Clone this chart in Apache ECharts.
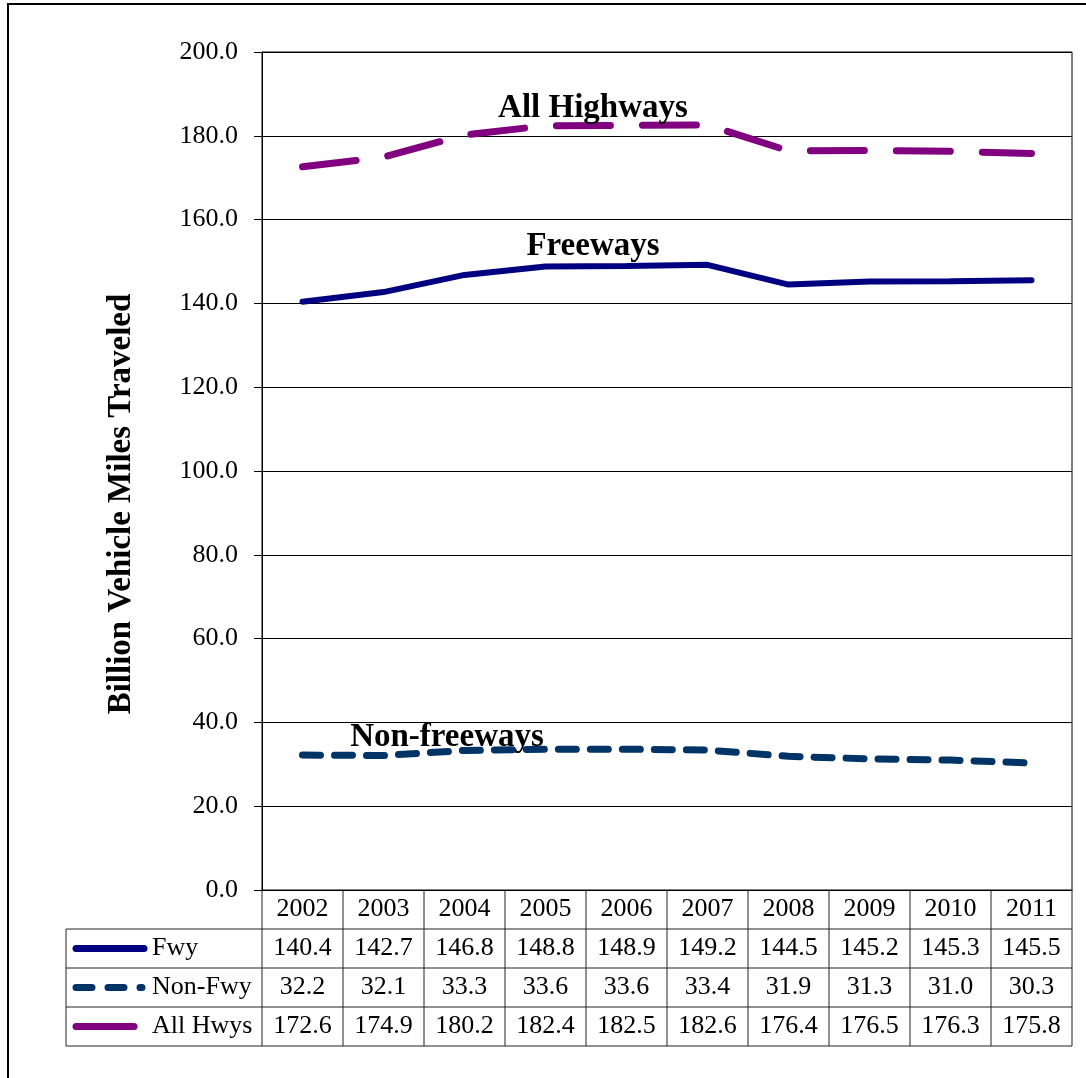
<!DOCTYPE html>
<html>
<head>
<meta charset="utf-8">
<script src="https://cdn.jsdelivr.net/npm/echarts@6/dist/echarts.min.js"></script>
<style>
  html, body { margin: 0; padding: 0; background: #fff; }
  #chart { width: 1086px; height: 1078px; }
</style>
</head>
<body>
<div id="chart"></div>
<script>
const years = ['2002', '2003', '2004', '2005', '2006', '2007', '2008', '2009', '2010', '2011'];
const fwy = [140.4, 142.7, 146.8, 148.8, 148.9, 149.2, 144.5, 145.2, 145.3, 145.5];
const nonFwy = [32.2, 32.1, 33.3, 33.6, 33.6, 33.4, 31.9, 31.3, 31.0, 30.3];
const allHwys = [172.6, 174.9, 180.2, 182.4, 182.5, 182.6, 176.4, 176.5, 176.3, 175.8];
const rowNames = ['Fwy', 'Non-Fwy', 'All Hwys'];
const rowData = [fwy, nonFwy, allHwys];
const yTitle = 'Billion Vehicle Miles Traveled';

const FONT = "'Liberation Serif', 'Times New Roman', serif";
const NAVY = '#000080';
const DARK_BLUE = '#003366';
const PURPLE = '#800080';

const myChart = echarts.init(document.getElementById('chart'));

const option = {
  backgroundColor: '#fff',
  animation: false,
  textStyle: { fontFamily: FONT },
  grid: {
    left: 262, right: 14, top: 52, bottom: 188,
    show: true, borderColor: '#000', borderWidth: 1
  },
  xAxis: {
    type: 'category',
    data: years,
    boundaryGap: true,
    axisLine: { lineStyle: { color: '#000', width: 1 } },
    axisTick: { show: false },
    axisLabel: { color: '#000', fontSize: 26, fontFamily: FONT, margin: 6 }
  },
  yAxis: {
    type: 'value',
    min: 0, max: 200, interval: 20,
    axisLine: { show: true, lineStyle: { color: '#000', width: 1 } },
    axisTick: { show: true, length: 8, lineStyle: { color: '#000' } },
    axisLabel: { color: '#000', fontSize: 26, fontFamily: FONT, margin: 24,
      formatter: v => v.toFixed(1) },
    splitLine: { show: true, lineStyle: { color: '#000', width: 1 } }
  },
  series: [
    {
      name: 'All Hwys', type: 'line', data: allHwys, symbol: 'none', z: 3,
      lineStyle: { color: PURPLE, width: 7, type: [54, 32], cap: 'round' }
    },
    {
      name: 'Fwy', type: 'line', data: fwy, symbol: 'none', z: 3,
      lineStyle: { color: NAVY, width: 6, type: 'solid', cap: 'round' }
    },
    {
      name: 'Non-Fwy', type: 'line', data: nonFwy, symbol: 'none', z: 3,
      lineStyle: { color: DARK_BLUE, width: 7, type: [18, 14], cap: 'round' }
    }
  ]
};

myChart.setOption(option);

// data table below the plot, laid out from the x axis columns
const x0 = myChart.convertToPixel({ xAxisIndex: 0 }, 0);
const x1 = myChart.convertToPixel({ xAxisIndex: 0 }, 1);
const band = x1 - x0;
const colLeft = x0 - band / 2;
const colRight = colLeft + band * years.length;
const yAxisBottom = myChart.convertToPixel({ yAxisIndex: 0 }, 0);
const rowH = 39;
const tableTop = yAxisBottom + rowH;
const tableBottom = tableTop + rowH * rowNames.length;
const tableLeft = 66;
const lineCol = '#222';

const elements = [];
// outer frame (extends past the right and bottom of the picture)
elements.push({
  type: 'rect', shape: { x: 8, y: 4, width: 1200, height: 1200 },
  style: { fill: 'none', stroke: '#000', lineWidth: 2 }, silent: true
});
// y axis title
elements.push({
  type: 'text', x: 121, y: 504, rotation: Math.PI / 2,
  style: { text: yTitle, font: 'bold 33px ' + FONT, fill: '#000', align: 'center', verticalAlign: 'middle' }
});
// table horizontal lines
elements.push({ type: 'line', shape: { x1: tableLeft, y1: tableTop, x2: colRight, y2: tableTop }, style: { stroke: lineCol, lineWidth: 1 } });
for (let r = 0; r < rowNames.length; r++) {
  const y = tableTop + rowH * (r + 1);
  elements.push({ type: 'line', shape: { x1: tableLeft, y1: y, x2: colRight, y2: y }, style: { stroke: lineCol, lineWidth: 1 } });
}
// table vertical lines
elements.push({ type: 'line', shape: { x1: tableLeft, y1: tableTop, x2: tableLeft, y2: tableBottom }, style: { stroke: lineCol, lineWidth: 1 } });
for (let c = 0; c <= years.length; c++) {
  const x = colLeft + band * c;
  elements.push({ type: 'line', shape: { x1: x, y1: yAxisBottom, x2: x, y2: tableBottom }, style: { stroke: lineCol, lineWidth: 1 } });
}
// values
rowData.forEach((vals, r) => {
  const cy = tableTop + rowH * r + rowH / 2;
  vals.forEach((v, c) => {
    elements.push({
      type: 'text', x: myChart.convertToPixel({ xAxisIndex: 0 }, c), y: cy,
      style: { text: v.toFixed(1), font: '26px ' + FONT, fill: '#000', align: 'center', verticalAlign: 'middle' }
    });
  });
  elements.push({
    type: 'text', x: 152, y: cy,
    style: { text: rowNames[r], font: '26px ' + FONT, fill: '#000', align: 'left', verticalAlign: 'middle' }
  });
});
// legend keys
const ky = r => tableTop + rowH * r + rowH / 2;
elements.push({ type: 'line', shape: { x1: 76, y1: ky(0), x2: 144, y2: ky(0) }, style: { stroke: NAVY, lineWidth: 7, lineCap: 'round' } });
elements.push({ type: 'line', shape: { x1: 76, y1: ky(1), x2: 142, y2: ky(1) }, style: { stroke: DARK_BLUE, lineWidth: 7, lineCap: 'round', lineDash: [16, 16] } });
elements.push({ type: 'line', shape: { x1: 76, y1: ky(2), x2: 134, y2: ky(2) }, style: { stroke: PURPLE, lineWidth: 7, lineCap: 'round' } });
// series annotations
const notes = [
  { text: 'All Highways', x: 593, y: 108 },
  { text: 'Freeways', x: 593, y: 246 },
  { text: 'Non-freeways', x: 447, y: 737 }
];
notes.forEach(n => elements.push({
  type: 'text', x: n.x, y: n.y, z: 10,
  style: { text: n.text, font: 'bold 33px ' + FONT, fill: '#000', align: 'center', verticalAlign: 'middle' }
}));

myChart.setOption({ graphic: { elements } });
</script>
</body>
</html>
